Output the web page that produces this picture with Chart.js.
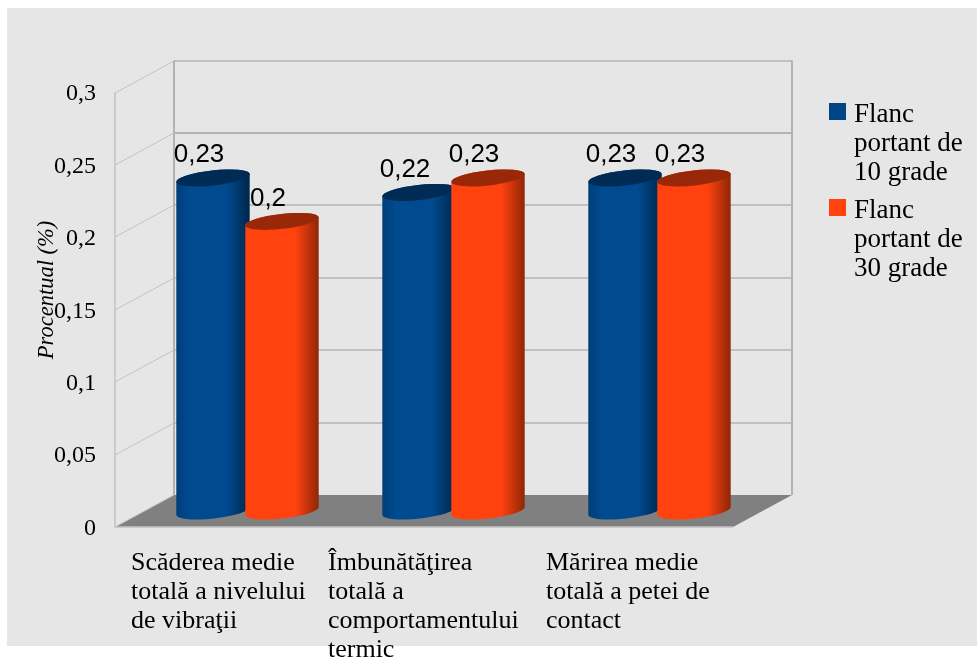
<!DOCTYPE html>
<html>
<head>
<meta charset="utf-8">
<title>Procentual</title>
<script src="https://cdn.jsdelivr.net/npm/chart.js@4"></script>
<style>
  html, body { margin: 0; background: #fff; }
  canvas { display: block; }
</style>
</head>
<body>
<canvas id="flancChart" width="977" height="659"></canvas>
<script>
const categories = [
  ['Scăderea medie', 'totală a nivelului', 'de vibraţii'],
  ['Îmbunătăţirea', 'totală a', 'comportamentului', 'termic'],
  ['Mărirea medie', 'totală a petei de', 'contact']
];
const flanc10 = [0.23, 0.22, 0.23];
const flanc30 = [0.2, 0.23, 0.23];
const legendLines = [
  ['Flanc', 'portant de', '10 grade'],
  ['Flanc', 'portant de', '30 grade']
];
const yTicks = [0, 0.05, 0.1, 0.15, 0.2, 0.25, 0.3];

const BLUE = '#004586';
const ORANGE = '#ff420e';
const SERIF = '"Liberation Serif", serif';
const SANS = '"Liberation Sans", sans-serif';

// depth of the box behind the front plane
const DEPTH_X = 59;
const DEPTH_Y = 32;

const commaNum = v => String(+v.toFixed(2)).replace('.', ',');

function cylinder(ctx, bar, base, side, top) {
  const cx = bar.x + DEPTH_X / 2;
  const topY = bar.y - DEPTH_Y / 2;
  const baseY = bar.base - DEPTH_Y / 2;
  const a = bar.width / 2;
  const b = 7.5;
  const tilt = -0.11;

  const grad = ctx.createLinearGradient(cx - a, 0, cx + a, 0);
  grad.addColorStop(0, side.left);
  grad.addColorStop(0.18, base);
  grad.addColorStop(0.68, base);
  grad.addColorStop(1, side.right);

  ctx.beginPath();
  ctx.ellipse(cx, baseY, a, b, tilt, 0, Math.PI);
  ctx.ellipse(cx, topY, a, b, tilt, Math.PI, Math.PI * 2);
  ctx.closePath();
  ctx.fillStyle = grad;
  ctx.fill();

  ctx.beginPath();
  ctx.ellipse(cx, topY, a, b, tilt, 0, Math.PI * 2);
  ctx.fillStyle = top;
  ctx.fill();
}

const box3d = {
  id: 'box3d',
  beforeDraw(chart) {
    const ctx = chart.ctx;
    ctx.save();
    ctx.fillStyle = '#e6e6e6';
    ctx.fillRect(7, 8, 970, 638);
    ctx.restore();
  },
  beforeDatasetsDraw(chart) {
    const ctx = chart.ctx;
    const { left, right } = chart.chartArea;
    const y = chart.scales.y;
    const bottom = y.getPixelForValue(0);
    const top = y.getPixelForValue(0.3);

    ctx.save();
    // floor
    ctx.fillStyle = '#808080';
    ctx.beginPath();
    ctx.moveTo(left, bottom);
    ctx.lineTo(left + DEPTH_X, bottom - DEPTH_Y);
    ctx.lineTo(right + DEPTH_X, bottom - DEPTH_Y);
    ctx.lineTo(right, bottom);
    ctx.closePath();
    ctx.fill();

    // side wall lines and back wall lines
    yTicks.forEach(v => {
      const py = Math.round(y.getPixelForValue(v));
      ctx.strokeStyle = '#c2c2c2';
      ctx.lineWidth = 1;
      ctx.beginPath();
      ctx.moveTo(left, py);
      ctx.lineTo(left + DEPTH_X, py - DEPTH_Y);
      ctx.stroke();
      if (v > 0) {
        ctx.strokeStyle = '#b3b3b3';
        ctx.lineWidth = v === 0.25 ? 2 : 1.3;
        ctx.beginPath();
        ctx.moveTo(left + DEPTH_X, py - DEPTH_Y);
        ctx.lineTo(right + DEPTH_X, py - DEPTH_Y);
        ctx.stroke();
      }
    });
    ctx.strokeStyle = '#c2c2c2';
    ctx.lineWidth = 1.5;
    ctx.beginPath();
    ctx.moveTo(left, top);
    ctx.lineTo(left, bottom);
    ctx.lineTo(right, bottom);
    ctx.stroke();
    ctx.strokeStyle = '#b3b3b3';
    ctx.lineWidth = 2;
    ctx.beginPath();
    ctx.moveTo(left + DEPTH_X, top - DEPTH_Y);
    ctx.lineTo(left + DEPTH_X, bottom - DEPTH_Y);
    ctx.moveTo(right + DEPTH_X, top - DEPTH_Y);
    ctx.lineTo(right + DEPTH_X, bottom - DEPTH_Y);
    ctx.stroke();
    ctx.restore();
  },
  // bars are replaced by the cylinders below
  beforeDatasetDraw() {
    return false;
  },
  afterDatasetsDraw(chart) {
    const ctx = chart.ctx;
    ctx.save();
    chart.getDatasetMeta(0).data.forEach(bar => {
      cylinder(ctx, bar, '#004a8f', { left: '#003e78', right: '#00264a' }, '#002b54');
    });
    chart.getDatasetMeta(1).data.forEach(bar => {
      cylinder(ctx, bar, ORANGE, { left: '#ff420e', right: '#8f2607' }, '#992808');
    });

    // value labels
    ctx.fillStyle = '#000';
    ctx.font = '26px ' + SANS;
    ctx.textAlign = 'center';
    ctx.textBaseline = 'middle';
    chart.data.datasets.forEach((ds, i) => {
      chart.getDatasetMeta(i).data.forEach((bar, j) => {
        ctx.fillText(commaNum(ds.data[j]), bar.x + 15.5, bar.y - 39);
      });
    });
    ctx.restore();
  },
  afterDraw(chart) {
    const ctx = chart.ctx;
    ctx.save();
    ctx.fillStyle = '#000';
    ctx.textBaseline = 'middle';
    ctx.textAlign = 'left';

    // category labels, left aligned under each group
    ctx.font = '26px ' + SERIF;
    const labelShift = [-87, -96, -84];
    categories.forEach((lines, i) => {
      const x = chart.scales.x.getPixelForValue(i) + labelShift[i];
      lines.forEach((line, k) => ctx.fillText(line, x, 563 + k * 29));
    });

    // legend
    ctx.font = '27px ' + SERIF;
    [BLUE, ORANGE].forEach((color, i) => {
      const y0 = 103 + i * 96;
      ctx.fillStyle = color;
      ctx.fillRect(829, y0, 17, 17);
      ctx.fillStyle = '#000';
      legendLines[i].forEach((line, k) => ctx.fillText(line, 854, y0 + 12 + k * 29));
    });

    // axis title
    ctx.translate(47, 290);
    ctx.rotate(-Math.PI / 2);
    ctx.textAlign = 'center';
    ctx.font = 'italic 22.5px ' + SERIF;
    ctx.fillText('Procentual (%)', 0, 0);
    ctx.restore();
  }
};

new Chart(document.getElementById('flancChart').getContext('2d'), {
  type: 'bar',
  data: {
    labels: categories.map(c => c.join(' ')),
    datasets: [
      { label: 'Flanc portant de 10 grade', data: flanc10, backgroundColor: BLUE },
      { label: 'Flanc portant de 30 grade', data: flanc30, backgroundColor: ORANGE }
    ]
  },
  options: {
    responsive: false,
    animation: false,
    layout: { padding: { top: 92.6, right: 244, bottom: 132, left: 0 } },
    datasets: { bar: { categoryPercentage: 0.67, barPercentage: 1.07 } },
    plugins: {
      legend: { display: false },
      title: { display: false },
      tooltip: { enabled: false }
    },
    scales: {
      x: {
        afterFit: s => { s.height = 0; },
        grid: { display: false },
        border: { display: false },
        ticks: { display: false }
      },
      y: {
        min: 0,
        max: 0.3,
        afterFit: s => { s.width = 115; },
        afterBuildTicks: s => { s.ticks = yTicks.map(v => ({ value: v })); },
        grid: { display: false, drawTicks: false },
        border: { display: false },
        ticks: {
          padding: 19,
          color: '#000',
          // empty first line with a small line height nudges the label down
          font: { family: SERIF, size: 24, lineHeight: '3px' },
          callback: v => ['', commaNum(v)]
        }
      }
    }
  },
  plugins: [box3d]
});
</script>
</body>
</html>
